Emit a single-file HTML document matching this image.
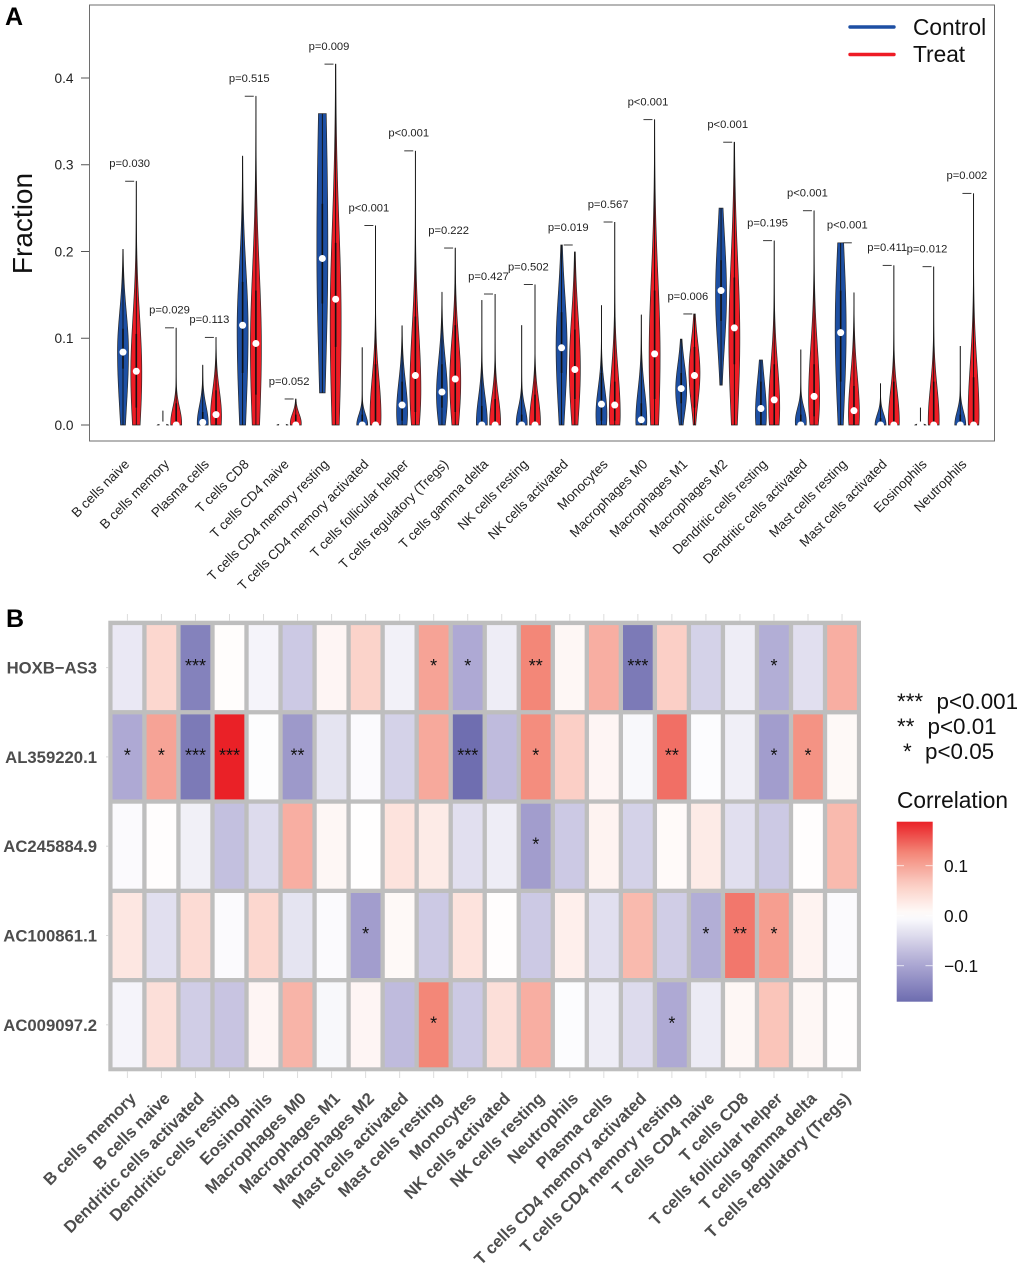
<!DOCTYPE html>
<html lang="en">
<head>
<meta charset="utf-8">
<title>Immune cell fractions and correlation heatmap</title>
<style>
html,body{margin:0;padding:0;background:#fff}
svg{display:block;font-family:"Liberation Sans",sans-serif}
</style>
</head>
<body>
<svg id="fig" xmlns="http://www.w3.org/2000/svg" width="1020" height="1266" viewBox="0 0 1020 1266">
  <rect width="1020" height="1266" fill="#fff"/>
  <text x="5" y="25" font-size="25" font-weight="bold" fill="#000">A</text>
  <text x="6" y="627" font-size="25" font-weight="bold" fill="#000">B</text>

  <g id="panelA">
    <rect x="89.5" y="5" width="905" height="436" fill="none" stroke="#6e6e6e" stroke-width="1"/>
    <text transform="translate(32,223.5) rotate(-90)" text-anchor="middle" font-size="28" fill="#111">Fraction</text>
    <g id="yAxisA"></g>
    <g id="violins"></g>
    <g id="pLabels"></g>
    <g id="xLabelsA"></g>
    <g>
      <line x1="850" y1="27" x2="894" y2="27" stroke="#1d4fa3" stroke-width="3.4" stroke-linecap="round"/>
      <text x="913" y="35" font-size="22.7" fill="#111">Control</text>
      <line x1="850" y1="54.5" x2="894" y2="54.5" stroke="#ee1c25" stroke-width="3.4" stroke-linecap="round"/>
      <text x="913" y="62" font-size="22.7" fill="#111">Treat</text>
    </g>
  </g>

  <g id="panelB">
    <rect x="108.3" y="620.7" width="752.7" height="450.6" fill="#bebebe"/>
    <g id="hmTicks"></g>
    <g id="hmCells"></g>
    <g id="hmRows"></g>
    <g id="hmCols"></g>
    <g font-size="22.4" fill="#111">
      <text x="897" y="709">***</text>
      <text x="936.5" y="709">p&lt;0.001</text>
      <text x="897" y="734">**</text>
      <text x="927.5" y="734">p&lt;0.01</text>
      <text x="903" y="759">*</text>
      <text x="925" y="759">p&lt;0.05</text>
    </g>
    <text x="897" y="808" font-size="22.7" fill="#111">Correlation</text>
    <defs><linearGradient id="cbGrad" x1="0" y1="0" x2="0" y2="1"></linearGradient></defs>
    <rect id="cbRect" x="896.7" y="822.3" width="36" height="179.4" fill="url(#cbGrad)"/>
    <g id="cbTicks"></g>
  </g>
</svg>
<script>
// ---------- Panel A data ----------
const cellTypesA = ["B cells naive","B cells memory","Plasma cells","T cells CD8","T cells CD4 naive","T cells CD4 memory resting","T cells CD4 memory activated","T cells follicular helper","T cells regulatory (Tregs)","T cells gamma delta","NK cells resting","NK cells activated","Monocytes","Macrophages M0","Macrophages M1","Macrophages M2","Dendritic cells resting","Dendritic cells activated","Mast cells resting","Mast cells activated","Eosinophils","Neutrophils"];
const pValues = ["p=0.030","p=0.029","p=0.113","p=0.515","p=0.052","p=0.009","p<0.001","p<0.001","p=0.222","p=0.427","p=0.502","p=0.019","p=0.567","p<0.001","p=0.006","p<0.001","p=0.195","p<0.001","p<0.001","p=0.411","p=0.012","p=0.002"];
const yTicksA = [0,0.1,0.2,0.3,0.4];
const controlMax = [0.2025,0.0165,0.069,0.31,0.001,0.359,0.0895,0.1145,0.153,0.144,0.115,0.2075,0.138,0.127,0.099,0.25,0.075,0.087,0.21,0.048,0.02,0.091];
const controlMin = [0,0,0,0,0,0.037,0,0,0,0,0,0,0,0,0,0.046,0,0,0,0,0,0];
const controlMedian = [0.084,0,0.003,0.115,0,0.192,0,0.023,0.038,0,0,0.089,0.024,0.006,0.042,0.155,0.019,0,0.1065,0,0,0];
const controlMode = [0.085,0,0.002,0.11,0,0.2,0,0.015,0.035,0.002,0.002,0.09,0.012,0.005,0.04,0.15,0.012,0.004,0.11,0,0,0];
const controlSpreadUp = [0.045,0.0008,0.02,0.07,0.0008,0.19,0.012,0.035,0.04,0.03,0.018,0.06,0.03,0.035,0.03,0.07,0.04,0.015,0.09,0.012,0.001,0.015];
const controlSpreadDown = [0.067,0.002,0.02,0.1,0.002,0.14,0.02,0.03,0.035,0.02,0.02,0.07,0.03,0.02,0.028,0.06,0.03,0.02,0.09,0.02,0.002,0.02];
const controlQ1 = [0.065,0,0,0.06,0,0.14,0,0.005,0.02,0,0,0.06,0.005,0,0.025,0.12,0,0,0.05,0,0,0];
const controlQ3 = [0.111,0.001,0.015,0.165,0.0005,0.255,0.012,0.05,0.07,0.022,0.012,0.13,0.06,0.025,0.06,0.19,0.05,0.012,0.155,0.008,0.0015,0.012];
const treatMax = [0.281,0.112,0.101,0.379,0.03,0.416,0.23,0.316,0.204,0.151,0.162,0.1995,0.234,0.352,0.128,0.326,0.2125,0.247,0.1525,0.184,0.1825,0.267];
const treatMin = [0,0,0,0,0,0,0,0,0,0,0,0,0,0,0,0,0,0,0,0,0,0];
const treatMedian = [0.062,0,0.012,0.094,0,0.145,0,0.057,0.053,0,0,0.064,0.023,0.082,0.057,0.112,0.029,0.033,0.0165,0,0,0];
const treatMode = [0.06,0.002,0.01,0.09,0.002,0.12,0.01,0.04,0.05,0.002,0.002,0.065,0.012,0.08,0.06,0.1,0.02,0.03,0.012,0.004,0.004,0.01];
const treatSpreadUp = [0.065,0.018,0.03,0.09,0.011,0.11,0.045,0.07,0.05,0.03,0.03,0.06,0.05,0.09,0.035,0.09,0.05,0.06,0.045,0.035,0.04,0.06];
const treatSpreadDown = [0.07,0.02,0.03,0.1,0.02,0.13,0.03,0.05,0.05,0.02,0.02,0.06,0.03,0.1,0.035,0.09,0.04,0.04,0.03,0.02,0.02,0.03];
const treatQ1 = [0.02,0,0,0.035,0,0.09,0,0.015,0.015,0,0,0.03,0.005,0.03,0.02,0.07,0,0.01,0,0,0,0];
const treatQ3 = [0.105,0.025,0.04,0.155,0.012,0.21,0.07,0.125,0.115,0.03,0.035,0.11,0.05,0.155,0.09,0.17,0.07,0.07,0.045,0.05,0.05,0.055];

// ---------- Panel B data ----------
const hmColumns = ["B cells memory","B cells naive","Dendritic cells activated","Dendritic cells resting","Eosinophils","Macrophages M0","Macrophages M1","Macrophages M2","Mast cells activated","Mast cells resting","Monocytes","NK cells activated","NK cells resting","Neutrophils","Plasma cells","T cells CD4 memory activated","T cells CD4 memory resting","T cells CD4 naive","T cells CD8","T cells follicular helper","T cells gamma delta","T cells regulatory (Tregs)"];
const hmRowNames = ["HOXB\u2212AS3","AL359220.1","AC245884.9","AC100861.1","AC009097.2"];
const corrHOXB = [-0.025,0.05,-0.145,0.003,-0.012,-0.06,0.012,0.055,-0.015,0.1,-0.095,-0.02,0.125,0.01,0.09,-0.155,0.06,-0.05,-0.02,-0.09,-0.035,0.09];
const corrAL35 = [-0.095,0.1,-0.155,0.188,-0.002,-0.115,-0.03,-0.005,-0.05,0.095,-0.17,-0.075,0.12,0.06,0.012,-0.008,0.14,-0.003,-0.018,-0.11,0.115,0.008];
const corrAC24 = [-0.005,0.002,-0.017,-0.07,-0.04,0.09,0.01,0.001,0.035,0.025,-0.035,-0.02,-0.11,-0.06,0.015,-0.05,0.006,0.025,-0.035,-0.06,0.002,0.08];
const corrAC10 = [0.03,-0.035,0.045,-0.005,0.05,-0.03,-0.005,-0.11,0.008,-0.06,0.035,0.002,-0.06,0.02,-0.035,0.08,-0.055,-0.09,0.135,0.105,0.015,-0.005];
const corrAC00 = [-0.012,0.04,-0.055,-0.065,0.012,0.085,-0.008,0.012,-0.075,0.125,-0.06,0.04,0.09,-0.003,-0.02,-0.04,-0.095,-0.022,0.01,0.07,0.01,0.002];
const starsHOXB = ["","","***","","","","","","","*","*","","**","","","***","","","","*","",""];
const starsAL35 = ["*","*","***","***","","**","","","","","***","","*","","","","**","","","*","*",""];
const starsAC24 = ["","","","","","","","","","","","","*","","","","","","","","",""];
const starsAC10 = ["","","","","","","","*","","","","","","","","","","*","**","*","",""];
const starsAC00 = ["","","","","","","","","","*","","","","","","","*","","","","",""];
const colorbarTicks = [0.1,0,-0.1];
const colorbarRange = [-0.172,0.188];

const NS = "http://www.w3.org/2000/svg";
function mk(tag, attrs, parent, text) {
  const n = document.createElementNS(NS, tag);
  for (const k in attrs) n.setAttribute(k, attrs[k]);
  if (text !== undefined) n.textContent = text;
  parent.appendChild(n);
  return n;
}
const $ = id => document.getElementById(id);

// Panel A scales
const yA = v => 425 - v * 867.5;
const xControl = i => 123 + 39.87 * i;
const xTreat = i => 136.3 + 39.87 * i;
const maxHalfWidth = 5.5;

function violinPath(cx, vMin, vMax, mode, sUp, sDn) {
  const density = v => {
    const s = v >= mode ? sUp : sDn;
    const d = (v - mode) / s;
    return Math.exp(-0.5 * d * d);
  };
  const n = 80, left = [], right = [];
  for (let k = 0; k <= n; k++) {
    const v = vMin + (vMax - vMin) * k / n;
    const hw = maxHalfWidth * density(v);
    left.push((cx - hw).toFixed(2) + "," + yA(v).toFixed(2));
    right.unshift((cx + hw).toFixed(2) + "," + yA(v).toFixed(2));
  }
  return "M" + left.concat(right).join("L") + "Z";
}

function drawViolin(parent, cx, fill, vMin, vMax, mode, sUp, sDn, q1, q3, med, label) {
  const g = mk("g", {}, parent);
  
  
  const body = mk("path", {d: violinPath(cx, vMin, vMax, mode, sUp, sDn), fill: fill, stroke: "#2a2a2a", "stroke-width": 0.7}, g);
  
  
  const whisker = mk("line", {x1: cx, x2: cx, y1: yA(vMin), y2: yA(vMax), stroke: "#111", "stroke-width": 0.9}, g);
  
  
  const box = mk("line", {x1: cx, x2: cx, y1: yA(q1), y2: yA(q3), stroke: "#111", "stroke-width": 1.6}, g);
  
  
  const dot = mk("circle", {cx: cx, cy: yA(med), r: 3.5, fill: "#fff"}, g);
  
  
}

yTicksA.forEach(t => {
  const tick = mk("line", {x1: 81, x2: 89, y1: yA(t), y2: yA(t), stroke: "#555", "stroke-width": 1}, $("yAxisA"));
  
  
  const lab = mk("text", {x: 73.5, y: yA(t) + 4.8, "text-anchor": "end", "font-size": 13.7, fill: "#222"}, $("yAxisA"), t.toFixed(1));
  
  
});

cellTypesA.forEach((name, i) => {
  drawViolin($("violins"), xControl(i), "#1d4fa3", controlMin[i], controlMax[i], controlMode[i], controlSpreadUp[i], controlSpreadDown[i], controlQ1[i], controlQ3[i], controlMedian[i], 'control-' + i);
  drawViolin($("violins"), xTreat(i), "#ee1c25", treatMin[i], treatMax[i], treatMode[i], treatSpreadUp[i], treatSpreadDown[i], treatQ1[i], treatQ3[i], treatMedian[i], 'treat-' + i);
  const xc = (xControl(i) + xTreat(i)) / 2;
  const top = yA(Math.max(controlMax[i], treatMax[i]));
  const br = mk("line", {x1: xc - 4.5, x2: xc + 4.5, y1: top, y2: top, stroke: "#222", "stroke-width": 0.9}, $("pLabels"));
  
  
  const pt = mk("text", {x: xc, y: top - 14.2, "text-anchor": "middle", "font-size": 11.2, fill: "#222"}, $("pLabels"), pValues[i]);
  
  
  const ax = xc + 0.5, ay = 465;
  const xl = mk("text", {transform: "translate(" + ax + "," + ay + ") rotate(-45)", "text-anchor": "end", "font-size": 13.4, fill: "#222"}, $("xLabelsA"), name);
  
  
});

// Panel B scales
const xCol = i => 127.4 + 34.03 * i;
const yRow = r => 667.6 + 89.3 * r;
const cellW = 29.7, cellH = 85;
const lerp = (a, b, t) => a + (b - a) * t;
function ramp(stops, t) {
  const s = t * (stops.length - 1);
  const k = Math.min(Math.floor(s), stops.length - 2);
  const f = s - k;
  return [0, 1, 2].map(c => Math.round(lerp(stops[k][c], stops[k + 1][c], f)));
}
const redStops = [[255,255,255],[251,205,195],[243,135,120],[234,33,39]];
const blueStops = [[255,255,255],[175,170,212],[96,96,168]];
function corrColor(v) {
  const t = Math.min(Math.abs(v) / 0.188, 1);
  const c = ramp(v >= 0 ? redStops : blueStops, t);
  return "rgb(" + c.join(",") + ")";
}

const corrRows = [corrHOXB, corrAL35, corrAC24, corrAC10, corrAC00];
const starRows = [starsHOXB, starsAL35, starsAC24, starsAC10, starsAC00];

hmColumns.forEach((name, c) => {
  [[614, 620.7], [1071.3, 1078]].forEach(p => {
    const t = mk("line", {x1: xCol(c), x2: xCol(c), y1: p[0], y2: p[1], stroke: "#dcdcdc", "stroke-width": 1}, $("hmTicks"));
    
    
  });
  const l = mk("text", {transform: "translate(" + (xCol(c) + 9.5) + ",1099.5) rotate(-45)", "text-anchor": "end", "font-size": 16.6, "font-weight": "bold", fill: "#4d4d4d"}, $("hmCols"), name);
  
  
});

hmRowNames.forEach((name, r) => {
  const l = mk("text", {x: 97, y: yRow(r) + 6, "text-anchor": "end", "font-size": 16.7, "font-weight": "bold", fill: "#4d4d4d"}, $("hmRows"), name);
  
  
  const t = mk("line", {x1: 106, x2: 108.3, y1: yRow(r), y2: yRow(r), stroke: "#dcdcdc", "stroke-width": 1}, $("hmTicks"));
  
  
  corrRows[r].forEach((v, c) => {
    const cell = mk("rect", {x: xCol(c) - cellW / 2, y: yRow(r) - cellH / 2, width: cellW, height: cellH, fill: corrColor(v)}, $("hmCells"));
    
    
    if (starRows[r][c]) {
      const s = mk("text", {x: xCol(c), y: yRow(r) + 4.5, "text-anchor": "middle", "font-size": 18, fill: "#111"}, $("hmCells"), starRows[r][c]);
      
      
    }
  });
});

// Colorbar
const yCb = v => 915.7 - v * 500;
const cbSteps = 24;
for (let k = 0; k <= cbSteps; k++) {
  const v = colorbarRange[1] + (colorbarRange[0] - colorbarRange[1]) * k / cbSteps;
  mk("stop", {offset: (k / cbSteps), "stop-color": corrColor(v)}, $("cbGrad"));
}
$("cbRect").setAttribute("y", yCb(colorbarRange[1]));
$("cbRect").setAttribute("height", yCb(colorbarRange[0]) - yCb(colorbarRange[1]));
colorbarTicks.forEach(t => {
  [[896.7, 904], [925.5, 932.7]].forEach(p => {
    const m = mk("line", {x1: p[0], x2: p[1], y1: yCb(t), y2: yCb(t), stroke: "#fff", "stroke-width": 0.9, opacity: 0.8}, $("cbTicks"));
    
    
  });
  const txt = (t < 0 ? "\u2212" : "") + Math.abs(t).toFixed(1);
  const l = mk("text", {x: 944, y: yCb(t) + 6.2, "font-size": 17.3, fill: "#111"}, $("cbTicks"), txt);
  
  
});
</script>
</body>
</html>
